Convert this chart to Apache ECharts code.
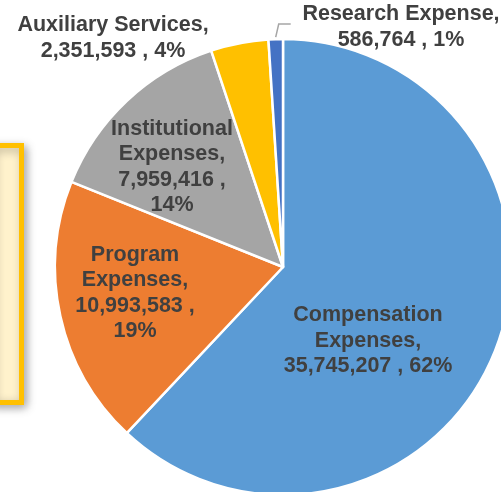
<!DOCTYPE html>
<html>
<head>
<meta charset="utf-8">
<script src="https://cdn.jsdelivr.net/npm/echarts@6/dist/echarts.min.js"></script>
<style>
  html, body { margin: 0; padding: 0; background: #fff; }
  #chart { width: 501px; height: 492px; }
</style>
</head>
<body>
<div id="chart"></div>
<script>
const categories = ['Compensation Expenses', 'Program Expenses', 'Institutional Expenses', 'Auxiliary Services', 'Research Expense'];
const amounts = [35745207, 10993583, 7959416, 2351593, 586764];
const colors = ['#5B9BD5', '#ED7D31', '#A5A5A5', '#FFC000', '#4472C4'];

// label centres (x, y) in pixels, one per slice
const labelPos = [[368, 341], [135, 293], [172, 167], [113, 38], [401, 27]];

const fmt = (n) => n.toLocaleString('en-US');

const formatLabel = (p) => {
  const v = fmt(p.value);
  const pct = Math.round(p.percent) + '%';
  const words = p.name.split(' ');
  switch (p.dataIndex) {
    case 0: return words[0] + '\n' + words[1] + ',\n' + v + ' , ' + pct;
    case 1:
    case 2: return words[0] + '\n' + words[1] + ',\n' + v + ' ,\n' + pct;
    default: return p.name + ',\n' + v + ' , ' + pct;
  }
};

const chart = echarts.init(document.getElementById('chart'));

const option = {
  animation: false,
  graphic: [{
    type: 'rect',
    z: 0,
    shape: { x: -10, y: 145.5, width: 31.5, height: 257 },
    style: {
      fill: '#FFF2CC',
      stroke: '#FFC000',
      lineWidth: 5,
      shadowBlur: 10,
      shadowOffsetX: 3,
      shadowOffsetY: 3,
      shadowColor: 'rgba(0,0,0,0.3)',
    },
  }],
  series: [{
    type: 'pie',
    center: [283, 267],
    radius: 228,
    startAngle: 90,
    clockwise: true,
    avoidLabelOverlap: false,
    itemStyle: { borderColor: '#fff', borderWidth: 2.5 },
    label: {
      show: true,
      position: 'outside',
      formatter: formatLabel,
      color: '#404040',
      fontFamily: 'Liberation Sans, Arial, sans-serif',
      fontWeight: 'bold',
      fontSize: 21.5,
      lineHeight: 25.5,
      textBorderWidth: 0,
      align: 'center',
    },
    labelLine: {
      show: true,
      lineStyle: { color: '#A6A6A6', width: 1.5 },
    },
    labelLayout: (params) => {
      const p = labelPos[params.dataIndex];
      const out = { x: p[0], y: p[1], align: 'center', verticalAlign: 'middle' };
      if (params.dataIndex === 4 && params.labelLinePoints) {
        const a = params.labelLinePoints[0];
        out.labelLinePoints = [[a[0], a[1] - 2], [a[0] + 3, a[1] - 15], [a[0] + 15, a[1] - 15]];
      }
      return out;
    },
    data: categories.map((name, i) => ({
      name,
      value: amounts[i],
      itemStyle: { color: colors[i] },
      label: { position: i < 3 ? 'inside' : 'outside' },
      labelLine: { show: i === 4 },
    })),
  }],
};

chart.setOption(option);
</script>
</body>
</html>
